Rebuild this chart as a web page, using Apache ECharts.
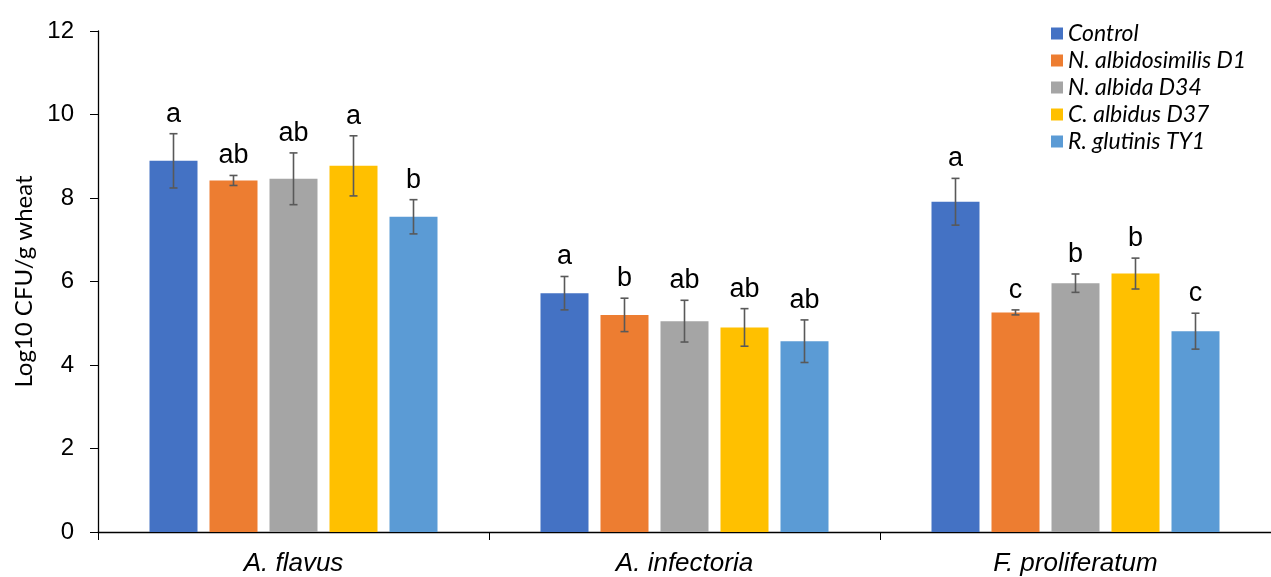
<!DOCTYPE html>
<html>
<head>
<meta charset="utf-8">
<script src="https://cdn.jsdelivr.net/npm/echarts@6/dist/echarts.min.js"></script>
<style>
html,body{margin:0;padding:0;background:#fff;}
#chart{width:1271px;height:577px;}
</style>
</head>
<body>
<div id="chart"></div>
<script>
const categories = ['A. flavus', 'A. infectoria', 'F. proliferatum'];
const seriesNames = ['Control', 'N. albidosimilis D1', 'N. albida D34', 'C. albidus D37', 'R. glutinis TY1'];
const colors = ['#4472C4', '#ED7D31', '#A5A5A5', '#FFC000', '#5B9BD5'];

const controlValues = [8.89, 5.72, 7.91];
const controlErr = [0.65, 0.40, 0.56];
const controlLetters = ['a', 'a', 'a'];

const d1Values = [8.42, 5.20, 5.26];
const d1Err = [0.12, 0.40, 0.06];
const d1Letters = ['ab', 'b', 'c'];

const d34Values = [8.46, 5.05, 5.96];
const d34Err = [0.62, 0.50, 0.22];
const d34Letters = ['ab', 'ab', 'b'];

const d37Values = [8.77, 4.90, 6.19];
const d37Err = [0.72, 0.45, 0.37];
const d37Letters = ['a', 'ab', 'b'];

const ty1Values = [7.55, 4.57, 4.81];
const ty1Err = [0.41, 0.51, 0.43];
const ty1Letters = ['b', 'ab', 'c'];

const yTicks = { min: 0, max: 12, interval: 2 };

const allValues = [controlValues, d1Values, d34Values, d37Values, ty1Values];
const allErr = [controlErr, d1Err, d34Err, d37Err, ty1Err];
const allLetters = [controlLetters, d1Letters, d34Letters, d37Letters, ty1Letters];

const BAR_W = 48;
const BAR_GAP = 0.25;

const barSeries = seriesNames.map((name, i) => ({
  name: name,
  type: 'bar',
  data: allValues[i],
  barWidth: BAR_W,
  barGap: (BAR_GAP * 100) + '%',
  itemStyle: { color: colors[i] },
  z: 2
}));

const errSeries = seriesNames.map((name, i) => ({
  name: name + ' err',
  type: 'custom',
  z: 5,
  silent: true,
  encode: { x: 0, y: 1 },
  data: allValues[i].map((v, k) => [k, v, allErr[i][k]]),
  renderItem: function (params, api) {
    const ci = api.value(0), v = api.value(1), e = api.value(2);
    const topPt = api.coord([ci, v + e]);
    const botPt = api.coord([ci, v - e]);
    const off = (i - (seriesNames.length - 1) / 2) * BAR_W * (1 + BAR_GAP);
    const x = topPt[0] + off;
    const cap = 4;
    const st = { stroke: '#595959', lineWidth: 1.6 };
    return {
      type: 'group',
      children: [
        { type: 'line', shape: { x1: x, y1: topPt[1], x2: x, y2: botPt[1] }, style: st },
        { type: 'line', shape: { x1: x - cap, y1: topPt[1], x2: x + cap, y2: topPt[1] }, style: st },
        { type: 'line', shape: { x1: x - cap, y1: botPt[1], x2: x + cap, y2: botPt[1] }, style: st },
        { type: 'text', style: {
            text: allLetters[i][params.dataIndex],
            x: x, y: topPt[1] - 6,
            align: 'center', verticalAlign: 'bottom',
            fontSize: 27, fontFamily: 'Liberation Sans, Arial, sans-serif',
            fill: '#000'
          } }
      ]
    };
  }
}));

const chart = echarts.init(document.getElementById('chart'), null, { renderer: 'canvas' });
chart.setOption({
  animation: false,
  backgroundColor: '#fff',
  grid: { left: 98, right: 0, top: 31, bottom: 45, containLabel: false },
  legend: {
    data: seriesNames,
    orient: 'vertical',
    left: 1046,
    top: 17,
    itemWidth: 12,
    itemHeight: 12,
    itemGap: 4,
    itemTextGap: 9,
    icon: 'rect',
    textStyle: { fontFamily: 'Lato, sans-serif', fontStyle: 'italic', fontSize: 23, color: '#000' }
  },
  xAxis: {
    type: 'category',
    data: categories,
    axisLine: { lineStyle: { color: '#000', width: 1.3 } },
    axisTick: { show: true, length: 8, lineStyle: { color: '#000' } },
    axisLabel: { fontFamily: 'Liberation Sans, Arial, sans-serif', fontStyle: 'italic', fontSize: 26, color: '#000', margin: 19 }
  },
  yAxis: {
    type: 'value',
    min: yTicks.min, max: yTicks.max, interval: yTicks.interval,
    name: 'Log10 CFU/g wheat',
    nameLocation: 'middle',
    nameGap: 61,
    nameTextStyle: { fontFamily: 'Lato, sans-serif', fontSize: 24, color: '#000' },
    axisLine: { show: true, lineStyle: { color: '#000', width: 1.3 } },
    axisTick: { show: true, length: 8, lineStyle: { color: '#000' } },
    splitLine: { show: false },
    axisLabel: { fontFamily: 'Liberation Sans, Arial, sans-serif', fontSize: 24, color: '#000', margin: 24 }
  },
  series: barSeries.concat(errSeries)
});
</script>
</body>
</html>
